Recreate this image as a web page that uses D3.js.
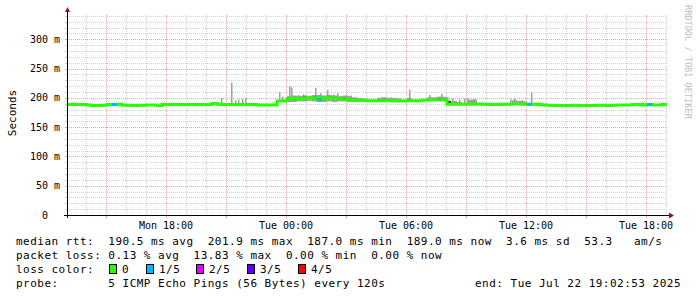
<!DOCTYPE html>
<html><head><meta charset="utf-8">
<script src="https://cdn.jsdelivr.net/npm/d3@7/dist/d3.min.js"></script>
<style>
body{margin:0;background:#fff}
text{font-family:"DejaVu Sans Mono",monospace;white-space:pre}
</style>
</head><body>
<svg id="c" width="697" height="297" xml:space="preserve"></svg>
<script>
// ---------------- data ----------------
const startTime = "2025-07-21T13:02:53";
const endTime   = "2025-07-22T19:02:53";
const binMinutes = 15;
// median rtt (ms), one value per 15-minute bin
const median = [
188.5,188.5,188.5,188.5,188,187,187,187.5,188.5,188.5,
189,187.5,187.5,187,187.5,187.5,188,188,186.5,188.5,
188.5,188.5,188.5,188.5,188.5,188.5,188.5,188.5,188.5,190.5,
189,188.5,188.5,188.5,188.5,188.5,188.5,188.5,188,188,
188,188,194.5,194.5,198.5,199.5,198,199,201,200,
197,201,200,198,199,198.5,197,196.5,196,195.5,
195,195,195,195,195.5,194.5,194.5,194.5,195,195,
195,196,196.5,196.5,196.5,196.5,189,189,189,189,
189,189,189.5,189,188.5,188.5,188.5,189,189,189.5,
189.5,189,189,189,188.5,188,187.5,187,187,187,
187,187.5,187,187,187,187,187.5,187.5,187,187.5,
188,188,188,188.5,188.5,188,188.5,188,188,188.5
];
// lost pings out of 5, per bin
const loss = [
0,0,0,0,0,0,0,0,0,1, 0,0,0,0,0,0,0,0,0,0,
0,0,0,0,0,0,0,0,0,0, 0,0,0,0,0,0,0,0,0,0,
0,0,0,0,0,0,0,0,0,0, 1,0,0,0,0,0,0,0,0,0,
0,0,0,0,0,0,0,0,0,0, 0,0,0,0,0,0,0,0,0,0,
0,0,0,0,0,0,0,0,0,0, 0,0,1,0,0,0,0,0,0,0,
0,0,0,0,0,0,0,0,0,0, 0,0,0,0,0,0,1,0,0,0
];
// outer smoke (min / max ping) per bin, null = hidden behind median
const smokeHigh = [
null,null,null,null,null,null,null,null,null,null, null,null,null,null,null,null,null,null,null,null,
null,null,null,null,null,null,null,null,null,null, null,null,null,null,null,null,null,null,null,null,
null,null,null,null,203,204,203,204,203,205, 205,204,205,204,203,204,203,201,200,199,
null,null,200,201,200,200,199,null,200,null, null,null,201,201,202,202,194,195,193,null,
197,197,null,null,null,null,null,null,null,196, 195,194,null,null,null,null,null,null,null,null,
null,null,null,null,null,null,null,null,null,null, null,null,null,191,null,191,null,null,null,null
];
const smokeLow = [
null,null,null,null,null,null,null,null,null,null, null,null,null,null,null,null,null,null,null,null,
null,null,null,null,null,null,null,null,null,null, null,null,null,null,null,null,null,null,null,null,
null,null,null,null,193,193,194,194,195,194, 193,193,194,193,194,194,193,193,193,193,
null,null,194,194,194,193,193,null,194,null, null,null,195,195,195,195,188,188,188,null,
188,188,null,null,null,null,null,null,null,188, 188,188,null,null,null,null,null,null,null,null,
null,null,null,null,null,null,null,null,null,null, null,null,null,187,null,187,null,null,null,null
];
// inner (dark) smoke per bin
const innerHigh = [
null,null,null,null,null,null,null,null,null,null, null,null,null,null,null,null,null,null,null,null,
null,null,null,null,null,null,null,null,null,null, null,null,null,null,null,null,null,null,null,null,
null,null,null,null,null,201,null,202,null,203, null,null,202,null,201,null,199,null,null,null,
null,null,null,198,null,null,null,null,198,null, null,null,null,null,199,null,195,null,null,null,
null,null,null,null,null,null,null,null,null,null, null,null,null,null,null,null,null,null,null,null,
null,null,null,null,null,null,null,null,null,null, null,null,null,null,null,null,null,null,null,null
];
const innerLow = [
null,null,null,null,null,null,null,null,null,null, null,null,null,null,null,null,null,null,null,null,
null,null,null,null,null,null,null,null,null,null, null,null,null,null,null,null,null,null,null,null,
null,null,null,null,null,197,null,199,null,200, null,null,199,null,198,null,196,null,null,null,
null,null,null,196,null,null,null,null,196,null, null,null,null,null,197,null,189,null,null,null,
null,null,null,null,null,null,null,null,null,null, null,null,null,null,null,null,null,null,null,null,
null,null,null,null,null,null,null,null,null,null, null,null,null,null,null,null,null,null,null,null
];
// single outlying pings (narrow smoke spikes)
const spikeTimes = [
"2025-07-21T20:44","2025-07-21T21:14","2025-07-21T21:26","2025-07-21T21:35","2025-07-21T21:47","2025-07-21T21:56",
"2025-07-21T23:38","2025-07-21T23:47","2025-07-22T00:08","2025-07-22T00:14","2025-07-22T00:35","2025-07-22T00:50",
"2025-07-22T01:26","2025-07-22T01:41","2025-07-22T02:02","2025-07-22T02:20","2025-07-22T02:32","2025-07-22T02:59",
"2025-07-22T03:11","2025-07-22T03:41","2025-07-22T04:44","2025-07-22T05:11","2025-07-22T06:08","2025-07-22T07:08",
"2025-07-22T07:44","2025-07-22T08:02","2025-07-22T08:17","2025-07-22T08:38","2025-07-22T08:53","2025-07-22T09:02",
"2025-07-22T09:20","2025-07-22T11:11","2025-07-22T11:23","2025-07-22T11:47","2025-07-22T12:14","2025-07-22T17:47"
];
const spikeValues = [
200,226,196,197,198,200,
210,202,220,218,205,206,
217,208,213,206,208,205,
204,200,201,201,214,205,
207,201,199,197,199,200,
198,197.5,199,196,209,192
];
const yMax = 341.5;
const yTickValues = [0,50,100,150,200,250,300];
const yTickLabels = ["0  ","50 m","100 m","150 m","200 m","250 m","300 m"];
const xLabelTimes = ["2025-07-21T18:00","2025-07-22T00:00","2025-07-22T06:00","2025-07-22T12:00","2025-07-22T18:00"];
const xLabels = ["Mon 18:00","Tue 00:00","Tue 06:00","Tue 12:00","Tue 18:00"];
const lossLabels = ["0","1/5","2/5","3/5","4/5"];
const lossColors = ["#26ff00","#00b8ff","#dd00ff","#5e00ff","#ff0000"];
const legendRows = [
"median rtt:  190.5 ms avg  201.9 ms max  187.0 ms min  189.0 ms now  3.6 ms sd  53.3   am/s",
"packet loss: 0.13 % avg  13.83 % max  0.00 % min  0.00 % now",
"loss color:",
"probe:       5 ICMP Echo Pings (56 Bytes) every 120s"
];
const endLabel = "end: Tue Jul 22 19:02:53 2025";
const yTitle = "Seconds";
const watermark = "RRDTOOL / TOBI OETIKER";

// ---------------- drawing ----------------
const svg = d3.select("#c");
svg.append("rect").attr("width",697).attr("height",297).attr("fill","#fff");
const L=67,R=667,T=15,B=215;
const t0 = new Date(startTime), t1 = new Date(endTime);
const x = d3.scaleTime().domain([t0,t1]).range([L,R]);
const y = d3.scaleLinear().domain([0,yMax]).range([B,T]);
const binTime = i => new Date(t0.getTime()+i*binMinutes*60000);
const minorCol = "#d2d2d2", majorCol = "#eaa2a2";

// grid
const g = svg.append("g");
const minorY = d3.range(0, yMax, 10);
g.selectAll(".hy").data(minorY.filter(v=>v%50!==0)).join("line")
  .attr("x1",L).attr("x2",R).attr("y1",d=>Math.round(y(d))+0.5).attr("y2",d=>Math.round(y(d))+0.5)
  .attr("stroke",minorCol).attr("stroke-dasharray","1,1");
const hours = d3.timeHour.range(t0,t1);
g.selectAll(".hx").data(hours.filter(h=>h.getHours()%3!==0)).join("line")
  .attr("x1",d=>Math.round(x(d))+0.5).attr("x2",d=>Math.round(x(d))+0.5).attr("y1",T).attr("y2",B)
  .attr("stroke",minorCol).attr("stroke-dasharray","1,1");
g.selectAll(".my").data(yTickValues.filter(v=>v>0)).join("line")
  .attr("x1",L).attr("x2",R).attr("y1",d=>Math.round(y(d))+0.5).attr("y2",d=>Math.round(y(d))+0.5)
  .attr("stroke",majorCol).attr("stroke-dasharray","1,1");
g.selectAll(".mx").data(hours.filter(h=>h.getHours()%3===0)).join("line")
  .attr("x1",d=>Math.round(x(d))+0.5).attr("x2",d=>Math.round(x(d))+0.5).attr("y1",T).attr("y2",B)
  .attr("stroke",majorCol).attr("stroke-dasharray","1,1");
// ticks
g.selectAll(".tmx").data(hours.filter(h=>h.getHours()%3===0)).join("line")
  .attr("x1",d=>Math.round(x(d))+0.5).attr("x2",d=>Math.round(x(d))+0.5).attr("y1",B).attr("y2",B+3)
  .attr("stroke",majorCol);
g.selectAll(".tmy").data(minorY).join("line")
  .attr("x1",L-2).attr("x2",L).attr("y1",d=>Math.round(y(d))+0.5).attr("y2",d=>Math.round(y(d))+0.5)
  .attr("stroke",d=>d%50===0?majorCol:minorCol);

// smoke
const bw = x(binTime(1))-x(binTime(0));
const idx = d3.range(median.length);
svg.append("g").selectAll("rect").data(idx.filter(i=>smokeHigh[i]!==null)).join("rect")
  .attr("x",i=>x(binTime(i))).attr("width",bw)
  .attr("y",i=>y(smokeHigh[i])).attr("height",i=>y(smokeLow[i])-y(smokeHigh[i]))
  .attr("fill","#a0a0a0");
svg.append("g").selectAll("rect").data(spikeTimes.map((t,k)=>k)).join("rect")
  .attr("x",k=>Math.round(x(new Date(spikeTimes[k]))))
  .attr("width",1.5)
  .attr("y",k=>y(spikeValues[k]))
  .attr("height",k=>{const i=Math.floor((new Date(spikeTimes[k])-t0)/(binMinutes*60000));return Math.max(0,y(median[i])-y(spikeValues[k]));})
  .attr("fill","#a0a0a0");
svg.append("g").selectAll("rect").data(idx.filter(i=>innerHigh[i]!==null)).join("rect")
  .attr("x",i=>x(binTime(i))+1).attr("width",bw-2)
  .attr("y",i=>y(innerHigh[i])).attr("height",i=>y(innerLow[i])-y(innerHigh[i]))
  .attr("fill","#404040");

// median line, coloured by loss
const pts = idx.map(i=>[binTime(i),median[i]]).concat([[t1,median[median.length-1]]]);
const line = d3.line().x(d=>x(d[0])).y(d=>y(d[1])).curve(d3.curveStepAfter);
svg.append("path").attr("d",line(pts)).attr("fill","none").attr("stroke",lossColors[0]).attr("stroke-width",3);
idx.filter(i=>loss[i]>0).forEach(i=>{
  svg.append("path").attr("d",line([[binTime(i),median[i]],[binTime(i+1),median[i]]]))
    .attr("fill","none").attr("stroke",lossColors[loss[i]]).attr("stroke-width",3);
});

// axes
svg.append("line").attr("x1",L-3).attr("x2",R+3).attr("y1",B+0.5).attr("y2",B+0.5).attr("stroke","#000");
svg.append("line").attr("x1",L+0.5).attr("x2",L+0.5).attr("y1",B+3).attr("y2",T-3).attr("stroke","#000");
svg.append("path").attr("d",`M${R+2},${B-2.5}L${R+7},${B+0.5}L${R+2},${B+3.5}Z`).attr("fill","#8b1a1a");
svg.append("path").attr("d",`M${L-2},${T-3}L${L+0.5},${T-8}L${L+3},${T-3}Z`).attr("fill","#8b1a1a");

// axis labels
svg.append("g").selectAll("text").data(yTickValues).join("text")
  .attr("x",60).attr("y",d=>y(d)).attr("dy","0.35em").attr("text-anchor","end")
  .attr("font-size","10px").attr("fill","#000").text((d,i)=>yTickLabels[i]);
svg.append("g").selectAll("text").data(xLabelTimes).join("text")
  .attr("x",d=>x(new Date(d))).attr("y",229).attr("text-anchor","middle")
  .attr("font-size","10px").attr("fill","#000").text((d,i)=>xLabels[i]);
svg.append("text").attr("transform","translate(15.5,113) rotate(-90)").attr("text-anchor","middle")
  .attr("font-size","11px").attr("fill","#000").text(yTitle);
svg.append("text").attr("transform","translate(685,5) rotate(90)").attr("text-anchor","start")
  .attr("font-size","8.6px").attr("fill","#c0c0c0").text(watermark);

// legend
const lg = svg.append("g").attr("font-size","11px").attr("letter-spacing","0.48px").attr("fill","#000");
lg.selectAll("text.r").data(legendRows).join("text")
  .attr("x",16).attr("y",(d,i)=>245+i*14).text(d=>d);
lg.append("text").attr("x",681).attr("y",287).attr("text-anchor","end").text(endLabel);
const swX = [109,146,196,247,298];
lossLabels.forEach((lab,i)=>{
  lg.append("rect").attr("x",swX[i]+0.5).attr("y",264.5).attr("width",7).attr("height",9)
    .attr("fill",lossColors[i]).attr("stroke","#000");
  lg.append("text").attr("x",swX[i]+13).attr("y",273).text(lab);
});
</script>
</body></html>
